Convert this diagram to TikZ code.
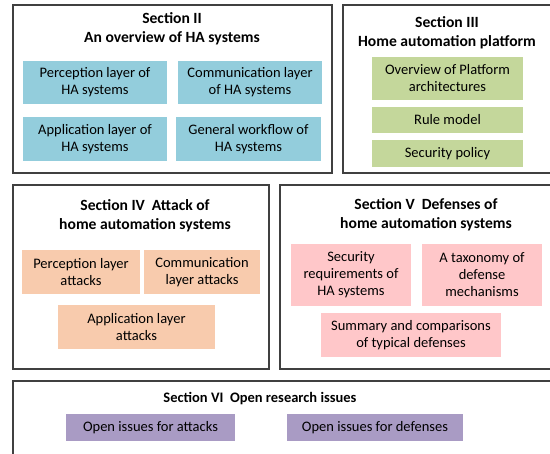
\documentclass[tikz,border=0pt]{standalone}
\usepackage{fontspec}
\setmainfont{Carlito}
\definecolor{frameline}{HTML}{404040}
\definecolor{haBlue}{HTML}{93CDDC}
\definecolor{haGreen}{HTML}{C4D79B}
\definecolor{haOrange}{HTML}{F8CBAD}
\definecolor{haPink}{HTML}{FFC7C9}
\definecolor{haPurple}{HTML}{A99BC4}
\tikzset{
  frame/.style={draw=frameline, line width=1.3pt, fill=white, inner sep=0pt},
  heading/.style={font=\fontsize{15.6}{19}\selectfont\bfseries, align=center, inner sep=0pt},
  smallheading/.style={heading, font=\fontsize{14.5}{19}\selectfont\bfseries},
  topic/.style={inner sep=0pt, align=center, font=\fontsize{14.5}{17}\selectfont},
  blue/.style={topic, fill=haBlue},
  green/.style={topic, fill=haGreen},
  orange/.style={topic, fill=haOrange},
  pink/.style={topic, fill=haPink},
  purple/.style={topic, fill=haPurple},
}
\begin{document}
\begin{tikzpicture}[x=1pt, y=-1pt]
\useasboundingbox (0,0) rectangle (550,454);
\begin{scope}
\clip (0,0) rectangle (550,454);

% Section frames
\node[frame, minimum width=319pt, minimum height=168pt] (s2) at (172.5,89) {};
\node[frame, minimum width=211pt, minimum height=168pt] (s3) at (448.5,89) {};
\node[frame, minimum width=256pt, minimum height=184pt] (s4) at (141,277) {};
\node[frame, minimum width=274pt, minimum height=184pt] (s5) at (417,277) {};
\node[frame, minimum width=541pt, minimum height=79pt] (s6) at (283.5,420.5) {};

% Section II
\node[heading] (t2) at (172,28.5) {Section II\\An overview of HA systems};
\node[blue, minimum width=144pt, minimum height=43pt] (b1) at (95,82.5) {Perception layer of\\HA systems};
\node[blue, minimum width=144pt, minimum height=43pt] (b2) at (250,82.5) {Communication layer\\of HA systems};
\node[blue, minimum width=144pt, minimum height=44pt] (b3) at (95,139) {Application layer of\\HA systems};
\node[blue, minimum width=145pt, minimum height=44pt] (b4) at (248.5,139) {General workflow of\\HA systems};

% Section III
\node[heading] (t3) at (447,32.5) {Section III\\Home automation platform};
\node[green, minimum width=151pt, minimum height=43pt] (g1) at (447.5,78.5) {Overview of Platform\\architectures};
\node[green, minimum width=151pt, minimum height=26pt] (g2) at (447.5,120) {Rule model};
\node[green, minimum width=151pt, minimum height=27pt] (g3) at (447.5,153.5) {Security policy};

% Section IV
\node[heading] (t4) at (145,215.5) {Section IV\ \ Attack of\\home automation systems};
\node[orange, minimum width=118pt, minimum height=44pt] (o1) at (81,272) {Perception layer\\attacks};
\node[orange, minimum width=116pt, minimum height=44pt] (o2) at (202,272) {Communication\\layer attacks};
\node[orange, minimum width=157pt, minimum height=44pt] (o3) at (136.5,327) {Application layer\\attacks};

% Section V
\node[heading] (t5) at (426,215) {Section V\ \ Defenses of\\home automation systems};
\node[pink, minimum width=120pt, minimum height=62pt] (p1) at (351,275) {Security\\requirements of\\HA systems};
\node[pink, minimum width=120pt, minimum height=62pt] (p2) at (482,275) {A taxonomy of\\defense\\mechanisms};
\node[pink, minimum width=180pt, minimum height=44pt] (p3) at (411,335) {Summary and comparisons\\of typical defenses};

% Section VI
\node[smallheading] (t6) at (260,399) {Section VI\ \ Open research issues};
\node[purple, minimum width=169pt, minimum height=27pt] (v1) at (150.5,427.5) {Open issues for attacks};
\node[purple, minimum width=176pt, minimum height=27pt] (v2) at (375,427.5) {Open issues for defenses};
\end{scope}
\end{tikzpicture}
\end{document}
